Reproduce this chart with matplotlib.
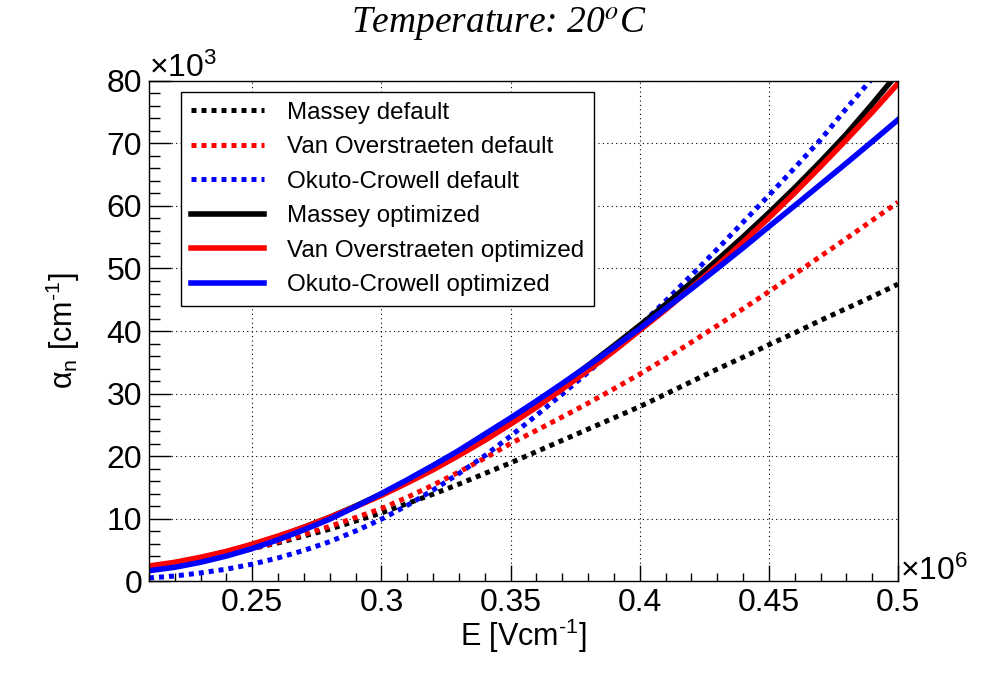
import numpy as np
import matplotlib
matplotlib.use("Agg")
import matplotlib.pyplot as plt
from matplotlib.ticker import MultipleLocator, FuncFormatter

plt.rcParams["font.family"] = ["Liberation Sans", "DejaVu Sans"]
plt.rcParams["mathtext.fontset"] = "custom"
plt.rcParams["mathtext.rm"] = "Liberation Sans"
plt.rcParams["mathtext.it"] = "Liberation Sans:italic"
plt.rcParams["mathtext.bf"] = "Liberation Sans:bold"

# electric field in units of 1e6 V/cm, alpha_n in units of 1e3 1/cm
field = [0.21, 0.22, 0.23, 0.24, 0.25, 0.26, 0.27, 0.28, 0.29, 0.30,
         0.31, 0.32, 0.33, 0.34, 0.35, 0.36, 0.37, 0.38, 0.39, 0.40,
         0.41, 0.42, 0.43, 0.44, 0.45, 0.46, 0.47, 0.48, 0.49, 0.50]

massey_def = [2.2, 2.8, 3.5, 4.3, 5.2, 6.1, 7.2, 8.3, 9.6, 10.9,
              12.4, 13.9, 15.5, 17.2, 18.9, 20.7, 22.5, 24.3, 26.1, 27.9,
              29.9, 31.9, 33.9, 35.8, 37.8, 39.7, 41.7, 43.6, 45.5, 47.5]
vo_def = [2.0, 2.6, 3.3, 4.15, 5.15, 6.25, 7.45, 8.75, 10.15, 11.6,
          13.4, 15.35, 17.45, 19.65, 22.0, 24.1, 26.25, 28.45, 30.75, 33.1,
          35.6, 38.2, 40.85, 43.55, 46.3, 49.1, 51.95, 54.8, 57.7, 60.6]
oc_def = [0.5, 0.8, 1.3, 1.9, 2.7, 3.7, 4.9, 6.3, 8.0, 9.9,
          12.1, 14.55, 17.2, 20.05, 23.2, 26.5, 29.9, 33.4, 37.0, 40.8,
          44.8, 48.9, 53.1, 57.4, 61.7, 66.1, 70.6, 75.6, 80.4, 85.2]
massey_opt = [2.2, 2.9, 3.7, 4.65, 5.8, 7.1, 8.6, 10.2, 12.0, 13.9,
              16.0, 18.2, 20.55, 23.05, 25.7, 28.5, 31.45, 34.5, 37.65, 40.9,
              44.25, 47.75, 51.35, 55.05, 58.9, 62.9, 67.1, 71.5, 76.3, 81.3]
vo_opt = [2.4, 3.0, 3.8, 4.75, 5.9, 7.2, 8.6, 10.2, 11.9, 13.7,
          15.7, 17.8, 20.1, 22.5, 25.1, 27.8, 30.7, 33.7, 36.8, 40.1,
          43.4, 46.9, 50.5, 54.2, 58.1, 62.1, 66.3, 70.6, 75.0, 79.6]
oc_opt = [1.65, 2.2, 3.0, 4.0, 5.2, 6.6, 8.2, 9.9, 11.9, 14.0,
          16.2, 18.5, 20.9, 23.5, 26.1, 28.8, 31.6, 34.45, 37.4, 40.4,
          43.6, 46.75, 50.0, 53.3, 56.7, 60.05, 63.45, 66.85, 70.3, 73.8]

labels = ["Massey default", "Van Overstraeten default", "Okuto-Crowell default",
          "Massey optimized", "Van Overstraeten optimized", "Okuto-Crowell optimized"]
colors = ["black", "red", "blue", "black", "red", "blue"]

fig = plt.figure(figsize=(9.98, 6.76), dpi=100)
ax = fig.add_axes([0.1493, 0.1405, 0.7505, 0.7397])

series = [massey_def, vo_def, oc_def, massey_opt, vo_opt, oc_opt]
for i, (y, lab, c) in enumerate(zip(series, labels, colors)):
    if i < 3:
        ax.plot(field, y, color=c, lw=3.6, ls=(0, (1, 1)), label=lab,
                dash_capstyle="butt")
    else:
        ax.plot(field, y, color=c, lw=4.0, ls="-", label=lab)

ax.set_xlim(0.21, 0.5)
ax.set_ylim(0, 80)
ax.xaxis.set_major_locator(MultipleLocator(0.05))
ax.xaxis.set_minor_locator(MultipleLocator(0.01))
ax.yaxis.set_major_locator(MultipleLocator(10))
ax.yaxis.set_minor_locator(MultipleLocator(2))
ax.xaxis.set_major_formatter(FuncFormatter(lambda v, p: "%g" % round(v, 3)))
ax.yaxis.set_major_formatter(FuncFormatter(lambda v, p: "%g" % v))

ax.tick_params(axis="both", which="both", direction="in", top=False, right=False,
               width=1.0, labelsize=23)
ax.tick_params(axis="x", which="major", length=11.5, pad=5)
ax.tick_params(axis="x", which="minor", length=5.5)
ax.tick_params(axis="y", which="major", length=15.6, pad=5)
ax.tick_params(axis="y", which="minor", length=7.7)

ax.grid(True, which="major", color="black", lw=0.8, ls=(0, (1, 3)))
ax.set_axisbelow(True)
for sp in ax.spines.values():
    sp.set_linewidth(1.0)

ax.set_xlabel("E [Vcm$^{\\text{-1}}$]", fontsize=22)
ax.set_ylabel("\u03b1$_{\\mathrm{n}}$ [cm$^{\\text{-1}}$]", fontsize=22)
ax.xaxis.set_label_coords(0.5, -0.072)
ax.yaxis.set_label_coords(-0.09, 0.5)

ax.text(0.0, 1.008, "\u00d710$^{3}$", transform=ax.transAxes, fontsize=23,
        ha="left", va="baseline")
ax.text(1.003, 0.002, "\u00d710$^{6}$", transform=ax.transAxes, fontsize=23,
        ha="left", va="baseline")

fig.text(0.5, 0.951, "Temperature: 20$^{o}$C", ha="center", va="baseline",
         fontsize=27, family="Liberation Serif", style="italic",
         math_fontfamily="stix")

leg = ax.legend(loc="upper left", bbox_to_anchor=(0.0427, 0.978), fontsize=17.4,
                frameon=True, fancybox=False, shadow=False, framealpha=1.0,
                edgecolor="black", handlelength=3.05, handletextpad=0.95,
                labelspacing=0.52, borderpad=0.4, borderaxespad=0.0)
leg.get_frame().set_linewidth(1.0)

fig.savefig("out.png", dpi=100)
